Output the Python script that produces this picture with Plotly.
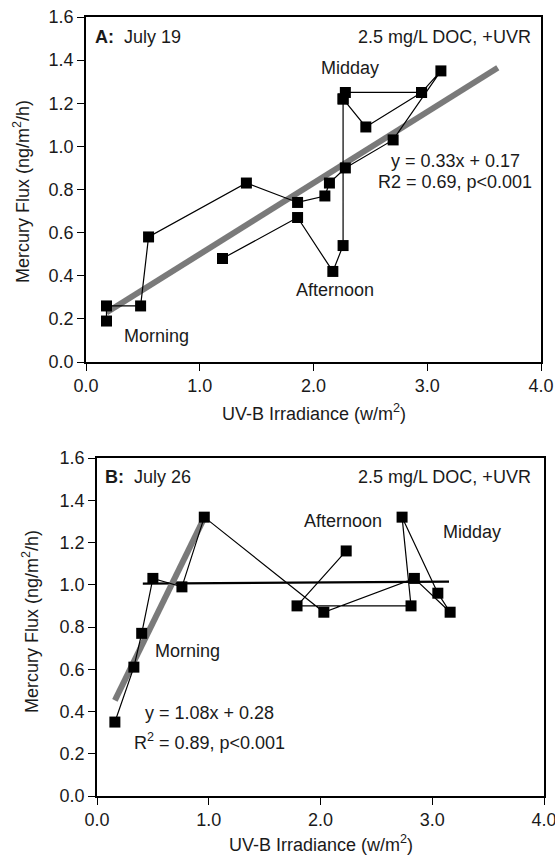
import plotly.graph_objects as go

# ---------------- data ----------------
# Panel A (July 19) – path of observations (None = break in the connecting line)
A_x = [0.18, 0.18, 0.48, 0.55, 1.41, 1.86, 2.10, 2.14, 2.28, 2.70, 3.12, 2.95, 2.28, 2.26, 2.26, 2.17, 1.86, 1.20,
       None, 2.26, 2.46, 2.95]
A_y = [0.19, 0.26, 0.26, 0.58, 0.83, 0.74, 0.77, 0.83, 0.90, 1.03, 1.35, 1.25, 1.25, 1.22, 0.54, 0.42, 0.67, 0.48,
       None, 1.22, 1.09, 1.25]
A_fit_x = [0.18, 3.62]
A_slope, A_int = 0.33, 0.17

# Panel B (July 26)
B_x = [0.16, 0.33, 0.40, 0.50, 0.76, 0.96, 2.03, 2.84, 3.16, 3.05, 2.73, 2.81, 1.79, 2.23]
B_y = [0.35, 0.61, 0.77, 1.03, 0.99, 1.32, 0.87, 1.03, 0.87, 0.96, 1.32, 0.90, 0.90, 1.16]
B_fit_x = [0.16, 0.95]
B_slope, B_int = 1.08, 0.28
B_flat_x = [0.41, 3.15]
B_flat_y = [1.005, 1.015]

x_ticks = [0, 1, 2, 3, 4]
y_ticks = [0, 0.2, 0.4, 0.6, 0.8, 1.0, 1.2, 1.4, 1.6]

FONT = "Liberation Sans, Arial, sans-serif"
FS = 18
GRAY = "#7a7a7a"
TXT = "#1a1a1a"

fig = go.Figure()

def fit_y(xs, m, b):
    return [m * v + b for v in xs]

# Panel A traces
fig.add_trace(go.Scatter(x=A_fit_x, y=fit_y(A_fit_x, A_slope, A_int), mode="lines",
                         line=dict(color=GRAY, width=6), xaxis="x", yaxis="y", showlegend=False))
fig.add_trace(go.Scatter(x=A_x, y=A_y, mode="lines+markers",
                         line=dict(color="black", width=1.2),
                         marker=dict(symbol="square", size=11, color="black"),
                         connectgaps=False, xaxis="x", yaxis="y", showlegend=False))

# Panel B traces
fig.add_trace(go.Scatter(x=B_flat_x, y=B_flat_y, mode="lines",
                         line=dict(color="black", width=2.2), xaxis="x2", yaxis="y2", showlegend=False))
fig.add_trace(go.Scatter(x=B_fit_x, y=fit_y(B_fit_x, B_slope, B_int), mode="lines",
                         line=dict(color=GRAY, width=6), xaxis="x2", yaxis="y2", showlegend=False))
fig.add_trace(go.Scatter(x=B_x, y=B_y, mode="lines+markers",
                         line=dict(color="black", width=1.2),
                         marker=dict(symbol="square", size=11, color="black"),
                         xaxis="x2", yaxis="y2", showlegend=False))

W, H = 555, 855

def xdom(l, r):
    return [l / W, r / W]

def ydom(top, bottom):
    return [1 - bottom / H, 1 - top / H]

axis_common = dict(showline=True, linecolor="black", linewidth=1.5, mirror=True,
                   ticks="outside", ticklen=7, tickwidth=1.2, tickcolor="black",
                   showgrid=False, zeroline=False, automargin=False,
                   ticklabeloverflow="allow",
                   tickfont=dict(family=FONT, size=FS, color=TXT))

xt = dict(tickvals=x_ticks, ticktext=[f"{v:.1f}" for v in x_ticks], range=[0, 4])
yt = dict(tickvals=y_ticks, ticktext=[f"{v:.1f}" for v in y_ticks], range=[0, 1.6])

fig.update_layout(
    width=W, height=H,
    margin=dict(l=0, r=0, t=0, b=0),
    paper_bgcolor="white", plot_bgcolor="white",
    xaxis=dict(domain=xdom(86, 541), anchor="y", **xt, **axis_common),
    yaxis=dict(domain=ydom(17, 362), anchor="x", **yt, **axis_common),
    xaxis2=dict(domain=xdom(97, 544), anchor="y2", **xt, **axis_common),
    yaxis2=dict(domain=ydom(458, 796), anchor="x2", **yt, **axis_common),
)

def ann(text, x, y, xref, yref, xanchor="center", angle=0):
    fig.add_annotation(text=text, x=x, y=y, xref=xref, yref=yref, showarrow=False,
                       xanchor=xanchor, yanchor="middle", textangle=angle,
                       font=dict(family=FONT, size=FS, color=TXT))

# Axis titles (placed in paper coordinates)
XT = "UV-B Irradiance (w/m<sup>2</sup>)"
YT = "Mercury Flux (ng/m<sup>2</sup>/h)"
ann(XT, 313.5 / W, 1 - 412 / H, "paper", "paper")
ann(XT, 320.5 / W, 1 - 843 / H, "paper", "paper")
ann(YT, 21 / W, 1 - 192 / H, "paper", "paper", angle=-90)
ann(YT, 30 / W, 1 - 622 / H, "paper", "paper", angle=-90)

# Panel A annotations
ann("<b>A:</b>&nbsp;&nbsp;July 19", 0.06, 1.507, "x", "y", "left")
ann("2.5 mg/L DOC, +UVR", 3.93, 1.507, "x", "y", "right")
ann("Midday", 2.32, 1.364, "x", "y")
ann("y = 0.33x + 0.17", 3.245, 0.932, "x", "y")
ann("R2 = 0.69, p&lt;0.001", 3.245, 0.835, "x", "y")
ann("Afternoon", 2.19, 0.334, "x", "y")
ann("Morning", 0.624, 0.12, "x", "y")

# Panel B annotations
ann("<b>B:</b>&nbsp;&nbsp;July 26", 0.054, 1.512, "x2", "y2", "left")
ann("2.5 mg/L DOC, +UVR", 3.90, 1.512, "x2", "y2", "right")
ann("Afternoon", 2.20, 1.30, "x2", "y2")
ann("Midday", 3.36, 1.25, "x2", "y2")
ann("Morning", 0.806, 0.687, "x2", "y2")
ann("y = 1.08x + 0.28", 1.01, 0.393, "x2", "y2")
ann("R<sup>2</sup> = 0.89, p&lt;0.001", 1.01, 0.26, "x2", "y2")

fig.write_html("out.html")
